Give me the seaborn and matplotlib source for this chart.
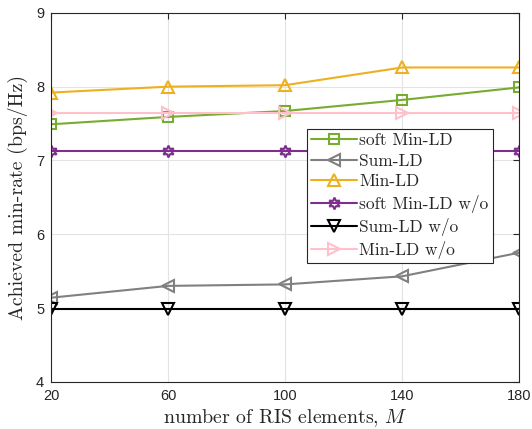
import matplotlib
matplotlib.use("Agg")
import matplotlib.pyplot as plt
import seaborn as sns
import pandas as pd

M = [20, 60, 100, 140, 180]
soft_min_ld = [7.49, 7.59, 7.67, 7.82, 7.99]
sum_ld = [5.14, 5.30, 5.32, 5.43, 5.75]
min_ld = [7.92, 8.00, 8.02, 8.26, 8.26]
soft_min_ld_wo = [7.13, 7.13, 7.13, 7.13, 7.13]
sum_ld_wo = [4.98, 4.98, 4.98, 4.98, 4.98]
min_ld_wo = [7.64, 7.64, 7.64, 7.64, 7.64]

labels = ["soft Min-LD", "Sum-LD", "Min-LD", "soft Min-LD w/o", "Sum-LD w/o", "Min-LD w/o"]
series = [soft_min_ld, sum_ld, min_ld, soft_min_ld_wo, sum_ld_wo, min_ld_wo]
colors = ["#77AC30", "#808080", "#EDB120", "#7E2F8E", "#000000", "#FFC0CB"]
markers = ["s", "<", "^", (6, 1, 0), "v", ">"]
msizes = [6.5, 9, 9, 8.5, 9, 9]

sns.set_style("white")
plt.rcParams["mathtext.fontset"] = "cm"

fig = plt.figure(figsize=(5.32, 4.29), dpi=100)
ax = fig.add_axes([0.096, 0.110, 0.880, 0.860])

for lab, ys, c, mk, ms in zip(labels, series, colors, markers, msizes):
    df = pd.DataFrame({"M": M, "rate": ys})
    sns.lineplot(data=df, x="M", y="rate", ax=ax, color=c, marker=mk, markersize=ms,
                 markerfacecolor="none", markeredgecolor=c, markeredgewidth=1.5,
                 linewidth=1.5, label=lab)

ax.set_xlim(20, 180)
ax.set_ylim(4, 9)
ax.set_xticks(M)
ax.set_yticks([4, 5, 6, 7, 8, 9])
ax.grid(True, color="#e3e3e3", linewidth=0.8)
ax.set_axisbelow(True)
for s in ax.spines.values():
    s.set_color("#262626")
    s.set_linewidth(0.8)
    s.set_visible(True)
ax.tick_params(direction="in", top=True, right=True, length=4, width=0.8,
               colors="#262626", labelsize=10.5, pad=5)
for t in ax.get_xticklabels() + ax.get_yticklabels():
    t.set_fontfamily("Liberation Sans")

ax.set_xlabel(r"number of RIS elements, $M$", fontfamily="cmr10", fontsize=14.3, color="#262626",
              labelpad=3)
ax.set_ylabel("Achieved min-rate (bps/Hz)", fontfamily="cmr10", fontsize=14.3, color="#262626",
              labelpad=6)

leg = ax.legend(loc="upper left", bbox_to_anchor=(0.547, 0.686), prop={"family": "cmr10", "size": 12.5},
                frameon=True, fancybox=False, edgecolor="#262626", framealpha=1,
                borderpad=0.25, labelspacing=0.3, handlelength=2.6, handletextpad=0.15,
                borderaxespad=0)
leg.get_frame().set_linewidth(0.8)

fig.savefig("out.png", dpi=100)
